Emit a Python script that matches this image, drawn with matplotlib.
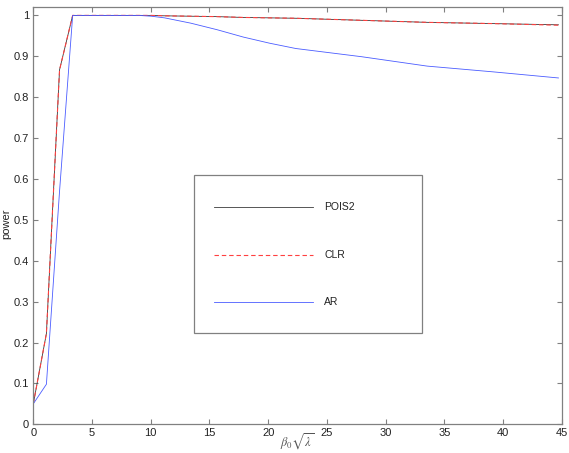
import matplotlib
matplotlib.use("Agg")
import matplotlib.pyplot as plt
from matplotlib.patches import Rectangle
import numpy as np

# beta_0 * sqrt(lambda) grid (beta_0 steps times sqrt(5))
beta0 = [0, 0.5, 1, 1.5, 2, 2.5, 3, 3.5, 4, 4.5, 5,
         6, 7, 8, 9, 10, 12.5, 15, 17.5, 20]
xgrid = np.sqrt(5) * np.array(beta0)

pois2 = [0.05, 0.222, 0.867, 1.0, 1.0, 1.0, 1.0, 1.0, 1.0, 1.0, 0.999,
         0.998, 0.997, 0.995, 0.994, 0.993, 0.988, 0.983, 0.980, 0.977]
clr = [0.05, 0.222, 0.867, 1.0, 1.0, 1.0, 1.0, 1.0, 1.0, 1.0, 0.999,
       0.998, 0.997, 0.995, 0.994, 0.993, 0.988, 0.983, 0.980, 0.976]
ar = [0.05, 0.098, 0.57, 1.0, 1.0, 1.0, 1.0, 1.0, 1.0, 0.998, 0.994,
      0.981, 0.965, 0.947, 0.932, 0.919, 0.899, 0.876, 0.862, 0.847]

labels = ['POIS2', 'CLR', 'AR']
xticks = [0, 5, 10, 15, 20, 25, 30, 35, 40, 45]
yticks = [0, 0.1, 0.2, 0.3, 0.4, 0.5, 0.6, 0.7, 0.8, 0.9, 1]
yticklabels = ['0', '0.1', '0.2', '0.3', '0.4', '0.5', '0.6', '0.7', '0.8', '0.9', '1']

plt.rcParams['font.family'] = ['Liberation Sans', 'DejaVu Sans']
plt.rcParams['mathtext.fontset'] = 'stix'

styles = [dict(color='#3a3a3a', lw=0.6, ls='-'),
          dict(color='#ff4040', lw=0.8, ls=(0, (4, 2.6))),
          dict(color='#4a5cff', lw=0.6, ls='-')]

fig = plt.figure(figsize=(5.69, 4.53), dpi=100)
ax = fig.add_axes([0.0585, 0.0634, 0.9287, 0.9211])

for yy, st in zip([pois2, clr, ar], styles):
    ax.plot(xgrid, yy, **st)

ax.set_xlim(0, 45)
ax.set_ylim(0, 1.0205)
ax.set_xticks(xticks)
ax.set_yticks(yticks)
ax.set_yticklabels(yticklabels)
ax.tick_params(direction='in', top=True, right=True, length=3.5, width=0.8,
               color='#808080', labelsize=8, labelcolor='#222222', pad=3)
for sp in ax.spines.values():
    sp.set_color('#808080')
    sp.set_linewidth(0.9)

ax.set_xlabel(r'$\beta_0\sqrt{\lambda}$', fontsize=9, color='#555555')
ax.xaxis.set_label_coords(0.5, -0.018)
ax.set_ylabel('power', fontsize=8, color='#222222')
ax.yaxis.set_label_coords(-0.041, 0.48)

# legend box drawn by hand to match the reference layout
ax.add_patch(Rectangle((0.3047, 0.2181), 0.4315, 0.3793, transform=ax.transAxes,
                       fill=False, edgecolor='#808080', lw=0.9))
rows = [0.5207, 0.4064, 0.2924]
for lab, st, yr in zip(labels, styles, rows):
    ax.plot([0.3425, 0.5288], [yr, yr], transform=ax.transAxes, **st)
    ax.text(0.5502, yr, lab, transform=ax.transAxes, fontsize=7.5,
            va='center', ha='left', color='#222222')

fig.savefig('out.png', dpi=100)
